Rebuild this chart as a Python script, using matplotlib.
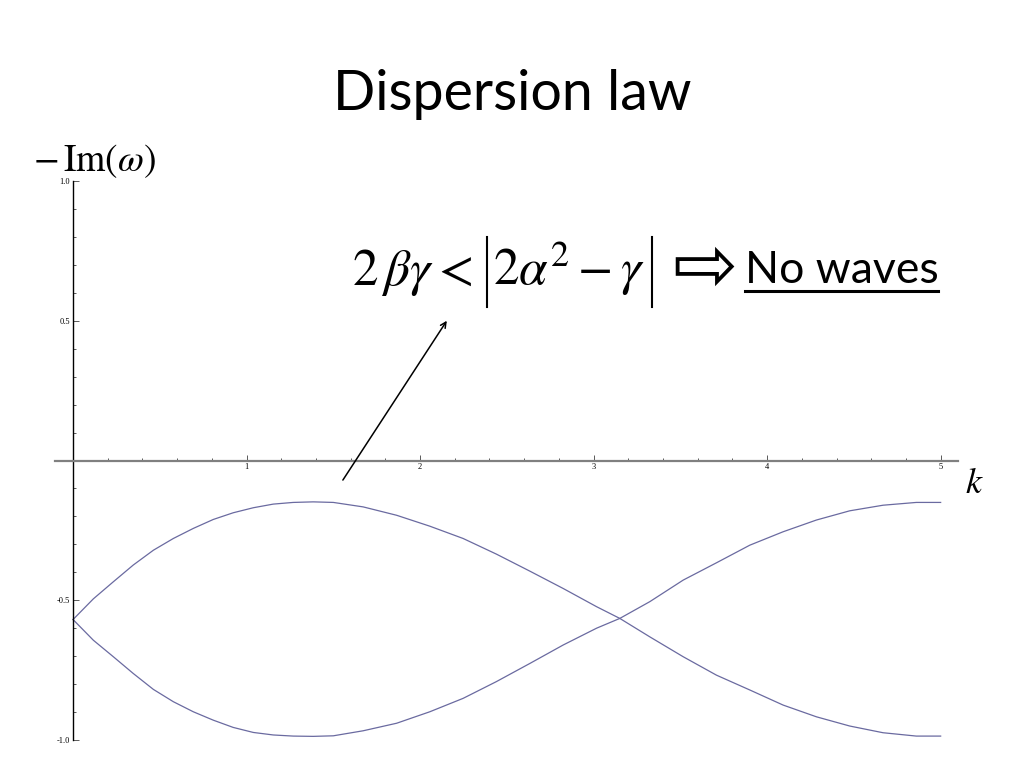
import numpy as np
import matplotlib.pyplot as plt
from matplotlib.lines import Line2D
from matplotlib.ticker import MultipleLocator, FixedLocator

plt.rcParams["mathtext.fontset"] = "stix"

# values
k_vals = [0.0, 0.117, 0.232, 0.347, 0.463, 0.578, 0.693, 0.808, 0.923, 1.039,
          1.154, 1.269, 1.384, 1.5, 1.672, 1.865, 2.056, 2.248, 2.44, 2.633,
          2.825, 3.017, 3.151, 3.324, 3.516, 3.708, 3.90, 4.092, 4.284, 4.476,
          4.668, 4.86, 5.0]
branch_up = [-0.569, -0.495, -0.434, -0.374, -0.321, -0.279, -0.243, -0.211,
             -0.187, -0.169, -0.156, -0.150, -0.148, -0.150, -0.166, -0.196,
             -0.235, -0.279, -0.335, -0.396, -0.458, -0.523, -0.565, -0.631,
             -0.702, -0.768, -0.821, -0.875, -0.917, -0.950, -0.974, -0.986,
             -0.986]
branch_down = [-0.569, -0.643, -0.702, -0.762, -0.819, -0.863, -0.899, -0.929,
               -0.955, -0.973, -0.982, -0.986, -0.987, -0.985, -0.967, -0.940,
               -0.899, -0.851, -0.791, -0.726, -0.660, -0.600, -0.565, -0.505,
               -0.428, -0.366, -0.303, -0.255, -0.213, -0.180, -0.160, -0.150,
               -0.150]

x_major = [1, 2, 3, 4, 5]
y_major = [-1.0, -0.5, 0.5, 1.0]
y_labels = ["-1.0", "-0.5", "0.5", "1.0"]

curve_color = "#6a6aa0"


def px(x, y):
    """pixel position (from top-left) -> figure fraction"""
    return x / 1024, 1 - y / 768


fig = plt.figure(figsize=(10.24, 7.68), dpi=100)
ax = fig.add_axes([55 / 1024, 28 / 768, 903 / 1024, 559 / 768])

ax.plot(k_vals, branch_up, color=curve_color, lw=0.9)
ax.plot(k_vals, branch_down, color=curve_color, lw=0.9)

ax.set_xlim(-0.104, 5.1)
ax.set_ylim(-1.0, 1.0)

ax.spines["left"].set_position(("data", 0))
ax.spines["bottom"].set_position(("data", 0))
ax.spines["top"].set_visible(False)
ax.spines["right"].set_visible(False)
ax.spines["left"].set_color("black")
ax.spines["left"].set_linewidth(1.0)
ax.spines["bottom"].set_color("#808080")
ax.spines["bottom"].set_linewidth(1.6)

ax.xaxis.set_major_locator(FixedLocator(x_major))
ax.xaxis.set_minor_locator(MultipleLocator(0.2))
ax.yaxis.set_major_locator(FixedLocator(y_major))
ax.yaxis.set_minor_locator(MultipleLocator(0.1))
ax.set_yticklabels(y_labels)
ax.tick_params(which="both", direction="in", color="#404040", width=0.6)
ax.tick_params(which="major", length=4, labelsize=6, pad=2)
ax.tick_params(which="minor", length=2)
for lab in ax.get_xticklabels() + ax.get_yticklabels():
    lab.set_family("Liberation Serif")

# arrow pointing from the curve gap up to the condition
ax.annotate("", xy=(2.154, 0.50), xytext=(1.555, -0.07),
            arrowprops=dict(arrowstyle="->", color="black", lw=1.1,
                            shrinkA=0, shrinkB=0))

fig.text(*px(512, 95), "Dispersion law", ha="center", va="center",
         family="Lato", fontsize=40)
fig.text(*px(33, 171), r"$-\,\mathrm{Im}(\omega)$", ha="left", va="baseline",
         fontsize=27)
fig.text(*px(965, 493), r"$k$", ha="left", va="baseline", fontsize=26)

# condition: 2βγ < |2α² − γ|  (tall bars drawn as lines, like the slide)
fig.text(*px(352, 285), r"$2\,\beta\gamma<$", ha="left", va="baseline",
         fontsize=37)
fig.text(*px(493, 285), r"$2\alpha^{2}-\gamma$", ha="left", va="baseline",
         fontsize=37)
for bx in (487, 652):
    fig.add_artist(Line2D([bx / 1024, bx / 1024], [1 - 237 / 768, 1 - 307 / 768],
                          color="black", lw=1.5))

fig.text(*px(705, 269), "\u21e8", ha="center", va="center",
         family="DejaVu Sans", fontsize=56)
fig.text(*px(745, 283), "No waves", ha="left", va="baseline",
         family="Lato", fontsize=32)
fig.add_artist(Line2D([745 / 1024, 938 / 1024], [1 - 291 / 768, 1 - 291 / 768],
                      color="black", lw=2.2))

fig.savefig("out.png", dpi=100)
